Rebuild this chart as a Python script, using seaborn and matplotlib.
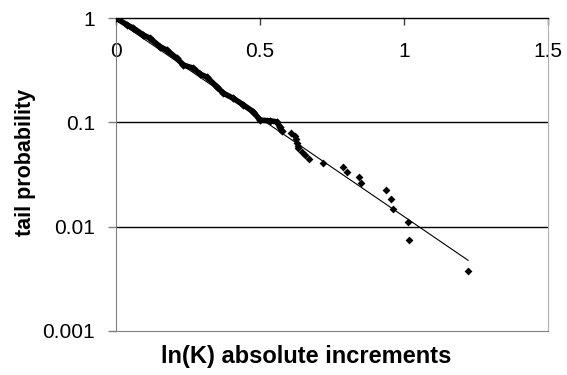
import matplotlib
matplotlib.use("Agg")
import matplotlib.pyplot as plt
import seaborn as sns
import pandas as pd
from matplotlib.ticker import NullLocator

# ---- data ----
dense_x = [0.0, 0.037, 0.060, 0.095, 0.118, 0.153, 0.176, 0.211, 0.234, 0.269,
           0.292, 0.315, 0.350, 0.373, 0.407, 0.442, 0.477, 0.500, 0.535, 0.558,
           0.569, 0.575]
dense_y = [1.0, 0.863, 0.80, 0.687, 0.64, 0.531, 0.493, 0.411, 0.354, 0.33,
           0.29, 0.272, 0.219, 0.19, 0.170, 0.147, 0.126, 0.105, 0.1035, 0.101,
           0.0908, 0.083]

tail_x = [0.608, 0.620, 0.625, 0.628, 0.631, 0.633, 0.647, 0.656, 0.669, 0.720,
          0.789, 0.801, 0.845, 0.851, 0.936, 0.954, 0.963, 1.013, 1.018, 1.223]
tail_y = [0.0785, 0.0744, 0.069, 0.0637, 0.0597, 0.0563, 0.0523, 0.0486, 0.0445, 0.041,
          0.0373, 0.0336, 0.0297, 0.026, 0.0224, 0.0185, 0.0148, 0.0111, 0.00744, 0.00373]

trend_x = [0.0, 1.223]
trend_y = [0.96, 0.00475]

x_ticks = [0, 0.5, 1, 1.5]
x_tick_labels = ["0", "0.5", "1", "1.5"]
y_ticks = [1, 0.1, 0.01, 0.001]
y_tick_labels = ["1", "0.1", "0.01", "0.001"]
grid_levels = [0.1, 0.01]

x_label = "ln(K) absolute increments"
y_label = "tail probability"

# ---- figure ----
sns.set_style("white")
plt.rcParams['font.family'] = ['Liberation Sans', 'DejaVu Sans']
plt.rcParams['text.color'] = 'black'
plt.rcParams['xtick.labelcolor'] = 'black'
plt.rcParams['ytick.labelcolor'] = 'black'

fig = plt.figure(figsize=(5.67, 3.75), dpi=100)
W, H = 567, 375
ax = fig.add_axes([116 / W, 1 - 331 / H, (548 - 116) / W, (331 - 18) / H])
ax.set_yscale('log')
ax.set_xlim(0, 1.5)
ax.set_ylim(0.001, 1)

for g in grid_levels:
    ax.axhline(g, color='black', lw=1.0, zorder=1)

dense = pd.DataFrame({"x": dense_x, "y": dense_y})
tail = pd.DataFrame({"x": tail_x, "y": tail_y})
trend = pd.DataFrame({"x": trend_x, "y": trend_y})

sns.lineplot(data=trend, x="x", y="y", ax=ax, color='black', lw=0.8, zorder=2)
sns.lineplot(data=dense, x="x", y="y", ax=ax, color='black', lw=4.0,
             zorder=3, sort=False, solid_capstyle='round', solid_joinstyle='round')
sns.scatterplot(data=dense, x="x", y="y", ax=ax, color='black', marker='D',
                s=18, linewidth=0, zorder=4)
sns.scatterplot(data=tail, x="x", y="y", ax=ax, color='black', marker='D',
                s=16, linewidth=0, zorder=4)

ax.set_xticks(x_ticks)
ax.set_xticklabels(x_tick_labels)
ax.set_yticks(y_ticks)
ax.set_yticklabels(y_tick_labels)
ax.yaxis.set_minor_locator(NullLocator())
ax.xaxis.set_minor_locator(NullLocator())

ax.tick_params(axis='x', bottom=False, top=True, labelbottom=False, labeltop=True,
               direction='in', length=5, width=1, color='#404040',
               labelcolor='black', labelsize=15, pad=-31)
ax.tick_params(axis='y', left=True, direction='out', length=6, width=1,
               color='#808080', labelcolor='black', labelsize=15, pad=9)

ax.spines['top'].set_color('black')
ax.spines['top'].set_linewidth(1.0)
ax.spines['left'].set_color('#808080')
ax.spines['bottom'].set_color('#808080')
ax.spines['right'].set_color('#b0b0b0')
for s in ax.spines.values():
    s.set_visible(True)

ax.set_xlabel("")
ax.set_ylabel("")
fig.text(306 / W, 1 - 357 / H, x_label, ha='center', va='center',
         fontsize=17, fontweight='bold', color='black')
fig.text(26 / W, 1 - 162 / H, y_label, ha='center', va='center',
         rotation=90, fontsize=15.5, fontweight='bold', color='black')

fig.savefig("out.png", dpi=100)
